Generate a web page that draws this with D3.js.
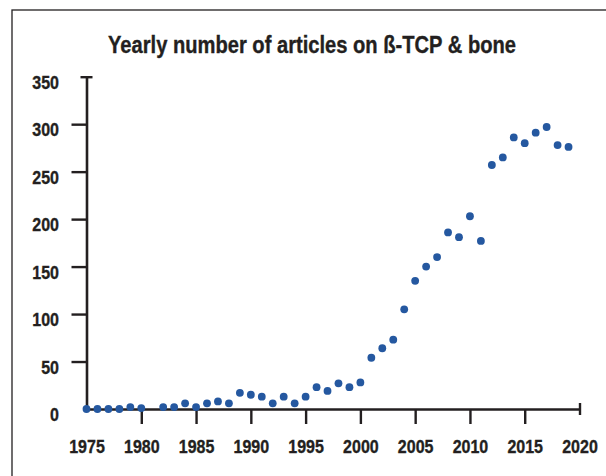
<!DOCTYPE html>
<html>
<head>
<meta charset="utf-8">
<script src="https://cdn.jsdelivr.net/npm/d3@7"></script>
<style>
  html, body { margin: 0; padding: 0; background: #fff; }
  svg { display: block; }
  text { font-family: "Liberation Sans Narrow", "Arial Narrow", "Liberation Sans", Arial, sans-serif; font-weight: bold; fill: #231f20; stroke: #231f20; stroke-width: 0.35px; }
</style>
</head>
<body>
<svg id="chart" width="606" height="476"></svg>
<script>
// ---- data ----
const years = [1975, 1976, 1977, 1978, 1979, 1980, 1982, 1983, 1984, 1985, 1986, 1987, 1988, 1989,
  1990, 1991, 1992, 1993, 1994, 1995, 1996, 1997, 1998, 1999, 2000, 2001, 2002, 2003, 2004,
  2005, 2006, 2007, 2008, 2009, 2010, 2011, 2012, 2013, 2014, 2015, 2016, 2017, 2018, 2019];
const articles = [0, 0, 0, 0, 2, 1, 2, 2, 6, 2, 6, 8, 6, 17,
  15, 13, 6, 13, 6, 13, 23, 19, 27, 23, 28, 54, 64, 73, 105,
  135, 150, 160, 186, 181, 203, 177, 257, 265, 286, 280, 291, 297, 278, 276];
const xTicks = [1975, 1980, 1985, 1990, 1995, 2000, 2005, 2010, 2015, 2020];
const yTicks = [0, 50, 100, 150, 200, 250, 300, 350];
const title = "Yearly number of articles on ß-TCP & bone";

// ---- layout ----
const svg = d3.select("#chart");
const ink = "#231f20";
const dotColor = "#2558a0";

const x = d3.scaleLinear().domain([1975, 2020]).range([86.5, 579.5]);
const y = d3.scaleLinear().domain([0, 350]).range([409, 76.7]);

// frame (left and top edges visible)
svg.append("rect")
  .attr("x", 12).attr("y", 10)
  .attr("width", 700).attr("height", 600)
  .attr("fill", "none").attr("stroke", ink).attr("stroke-width", 1.3);

// title
svg.append("text")
  .attr("x", 108).attr("y", 52.5)
  .attr("font-size", 23)
  .attr("textLength", 408)
  .attr("lengthAdjust", "spacingAndGlyphs")
  .text(title);

// y axis
const yAxis = d3.axisLeft(y).tickValues(yTicks).tickSizeInner(15).tickSizeOuter(0).tickPadding(12);
const gy = svg.append("g").attr("transform", `translate(${x(1975)},0)`).call(yAxis);
gy.attr("font-family", null);
gy.select(".domain").attr("stroke", ink).attr("stroke-width", 2.6);
gy.selectAll(".tick line").attr("stroke", ink).attr("stroke-width", 2.4);
gy.selectAll(".tick").filter(d => d === 0).select("line").remove();
gy.selectAll(".tick").filter(d => d === 350).select("line").attr("x1", -6).attr("x2", 6);
gy.selectAll(".tick text")
  .attr("font-size", 18.5)
  .attr("x", -27.5)
  .attr("dy", "0.62em")
  .attr("fill", ink)
  .attr("textLength", d => String(d).length * 8.9)
  .attr("lengthAdjust", "spacingAndGlyphs");

// x axis
const xAxis = d3.axisBottom(x).tickValues(xTicks).tickFormat(d3.format("d")).tickSizeInner(15).tickSizeOuter(0).tickPadding(0);
const gx = svg.append("g").attr("transform", `translate(0,${y(0)})`).call(xAxis);
gx.attr("font-family", null);
gx.select(".domain").attr("stroke", ink).attr("stroke-width", 2.6);
gx.selectAll(".tick line").attr("stroke", ink).attr("stroke-width", 2.4);
gx.selectAll(".tick").filter(d => d === 1975).select("line").remove();
gx.selectAll(".tick").filter(d => d === 2020).select("line").attr("y1", -6).attr("y2", 6);
gx.selectAll(".tick text")
  .attr("font-size", 18.5)
  .attr("y", 43.7)
  .attr("dy", null)
  .attr("fill", ink)
  .attr("textLength", d => String(d).length * 8.9)
  .attr("lengthAdjust", "spacingAndGlyphs");

// dots
svg.append("g").selectAll("circle")
  .data(years.map((yr, i) => ({ yr, v: articles[i] })))
  .join("circle")
  .attr("cx", d => x(d.yr))
  .attr("cy", d => y(d.v))
  .attr("r", 3.9)
  .attr("fill", dotColor);
</script>
</body>
</html>
